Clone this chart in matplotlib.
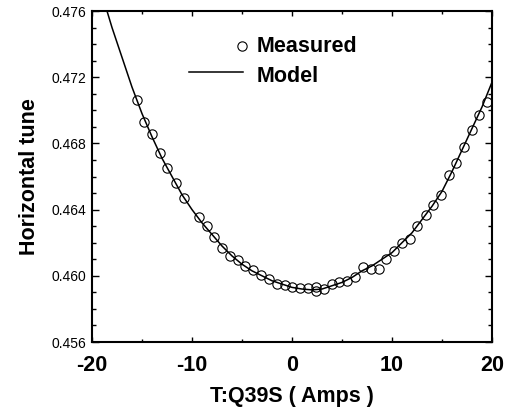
import matplotlib
matplotlib.use("Agg")
import matplotlib.pyplot as plt
from matplotlib.ticker import MultipleLocator, FormatStrFormatter

plt.rcParams['font.family'] = ['Liberation Sans', 'DejaVu Sans']
plt.rcParams['axes.unicode_minus'] = False

# Measured data (current in Amps, horizontal tune)
meas_x = [-15.53, -14.8, -14.0, -13.2, -12.47, -11.63, -10.83, -9.33, -8.53, -7.77,
          -6.97, -6.23, -5.43, -4.67, -3.87, -3.1, -2.3, -1.53, -0.7, 0.03,
          0.8, 1.6, 2.4, 2.4, 3.17, 3.97, 4.73, 5.5, 6.3, 7.07,
          7.87, 8.67, 9.4, 10.2, 10.97, 11.8, 12.53, 13.37, 14.13, 14.87,
          15.67, 16.4, 17.2, 18.0, 18.75, 19.53]
meas_y = [0.47064, 0.46930, 0.46855, 0.46743, 0.46651, 0.46560, 0.46472, 0.46356, 0.46301, 0.46232,
          0.46167, 0.46117, 0.46093, 0.46061, 0.46033, 0.46003, 0.45981, 0.45951, 0.45943, 0.45934,
          0.45928, 0.45925, 0.45932, 0.45906, 0.45921, 0.45952, 0.45962, 0.45970, 0.45995, 0.46051,
          0.46041, 0.46041, 0.46101, 0.46149, 0.46196, 0.46221, 0.46298, 0.46370, 0.46430, 0.46490,
          0.46611, 0.46680, 0.46778, 0.46882, 0.46972, 0.47053]

# Model curve
model_x = [-18.5, -18, -17.5, -17, -16.5, -16, -15.5, -15, -14, -13, -12, -11, -10,
           -9, -8, -7, -6, -5, -4, -3, -2, -1, 0,
           1, 2, 3, 4, 5, 6, 7, 8, 9, 10,
           11, 12, 13, 14, 15, 16, 17, 18, 19, 20]
model_y = [0.4760, 0.4750, 0.4741, 0.4732, 0.4723, 0.4714, 0.4706, 0.4698, 0.4684, 0.4671,
           0.4660, 0.4649, 0.4640,
           0.4632, 0.4625, 0.4618, 0.4612, 0.4607, 0.4603, 0.4600, 0.4597, 0.4595, 0.4593,
           0.4592, 0.45915, 0.4592, 0.4594, 0.4596, 0.4599, 0.4603, 0.4606, 0.4610, 0.4614,
           0.4620, 0.4626, 0.4634, 0.4642, 0.4651, 0.4663, 0.4676, 0.4689, 0.4702, 0.4717]

x_label = "T:Q39S ( Amps )"
y_label = "Horizontal tune"
legend_labels = ["Measured", "Model"]

fig = plt.figure(figsize=(5.1, 4.12), dpi=100)
ax = fig.add_axes([0.1804, 0.1699, 0.7843, 0.8034])

ax.plot(model_x, model_y, color='black', lw=1.1, zorder=2)
ax.plot(meas_x, meas_y, linestyle='none', marker='o', markersize=6.7,
        markerfacecolor='none', markeredgecolor='black', markeredgewidth=0.8, zorder=3)

ax.set_xlim(-20, 20)
ax.set_ylim(0.456, 0.476)
ax.xaxis.set_major_locator(MultipleLocator(10))
ax.xaxis.set_minor_locator(MultipleLocator(5))
ax.yaxis.set_major_locator(MultipleLocator(0.004))
ax.yaxis.set_minor_locator(MultipleLocator(0.001))
ax.yaxis.set_major_formatter(FormatStrFormatter('%.3f'))

ax.tick_params(axis='both', which='both', direction='in', top=True, right=True, width=1.0)
ax.tick_params(axis='y', which='major', length=5, labelsize=10, pad=4)
ax.tick_params(axis='y', which='minor', length=3)
ax.tick_params(axis='x', which='major', length=3.5, labelsize=15.5, pad=9)
ax.tick_params(axis='x', which='minor', length=2)
for lab in ax.get_xticklabels():
    lab.set_fontweight('bold')

for sp in ax.spines.values():
    sp.set_linewidth(1.5)

ax.set_xlabel(x_label, fontsize=15.5, fontweight='bold', labelpad=7.5)
ax.set_ylabel(y_label, fontsize=15.5, fontweight='bold', labelpad=8)

# Legend drawn by hand to match layout
ax.plot([0.375], [0.895], transform=ax.transAxes, marker='o', markersize=6.7,
        markerfacecolor='none', markeredgecolor='black', markeredgewidth=0.8, linestyle='none')
ax.plot([0.243, 0.377], [0.815, 0.815], transform=ax.transAxes, color='black', lw=1.1)
ax.text(0.4125, 0.893, legend_labels[0], transform=ax.transAxes, fontsize=15.5,
        fontweight='bold', va='center', ha='left')
ax.text(0.4125, 0.802, legend_labels[1], transform=ax.transAxes, fontsize=15.5,
        fontweight='bold', va='center', ha='left')

fig.savefig("out.png", dpi=100)
